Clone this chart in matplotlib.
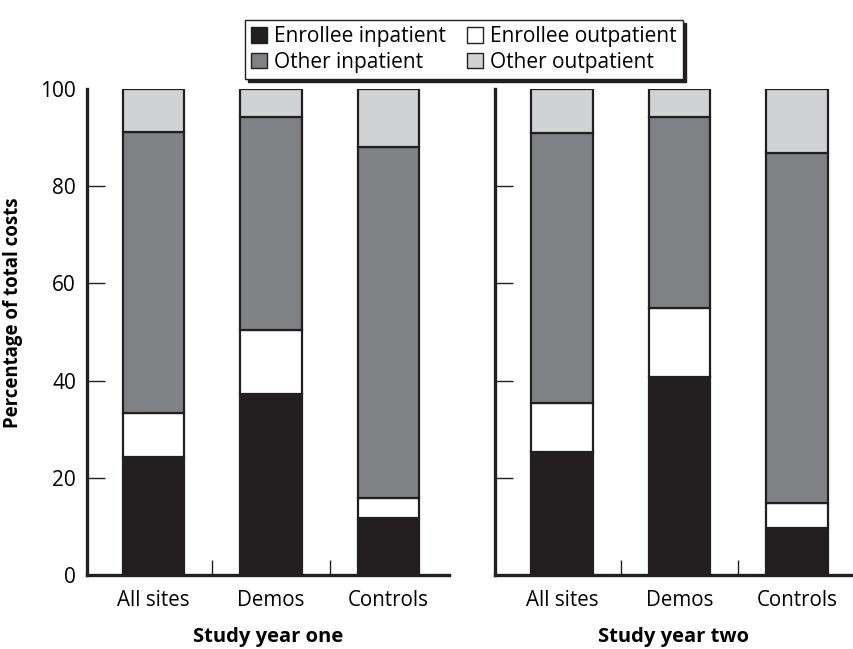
import matplotlib
matplotlib.use("Agg")
import matplotlib.pyplot as plt
from matplotlib.patches import Patch
import numpy as np

plt.rcParams['font.family'] = ['Open Sans', 'DejaVu Sans']

categories = ["All sites", "Demos", "Controls"]
series_names = ["Enrollee inpatient", "Enrollee outpatient", "Other inpatient", "Other outpatient"]

# Year one segment percentages
y1_enrollee_inpatient = [24.2, 37.2, 11.7]
y1_enrollee_outpatient = [9.1, 13.2, 4.2]
y1_other_inpatient = [57.9, 43.9, 72.2]
y1_other_outpatient = [8.8, 5.7, 11.9]

# Year two segment percentages
y2_enrollee_inpatient = [25.4, 40.7, 9.7]
y2_enrollee_outpatient = [9.9, 14.2, 5.1]
y2_other_inpatient = [55.7, 39.4, 72.0]
y2_other_outpatient = [9.0, 5.7, 13.2]

panel_titles = ["Study year one", "Study year two"]
y_ticks = [0, 20, 40, 60, 80, 100]

colors = ["#231f20", "#ffffff", "#808184", "#d1d2d4"]
edge = "#231f20"

fig = plt.figure(figsize=(8.54, 6.49), dpi=100)
H = 649.0
W = 854.0
ax1 = fig.add_axes([87 / W, (H - 575) / H, (449 - 87) / W, (575 - 89) / H])
ax2 = fig.add_axes([495 / W, (H - 575) / H, (852 - 495) / W, (575 - 89) / H])

panels = [
    (ax1, [y1_enrollee_inpatient, y1_enrollee_outpatient, y1_other_inpatient, y1_other_outpatient], (-0.566, 2.515)),
    (ax2, [y2_enrollee_inpatient, y2_enrollee_outpatient, y2_other_inpatient, y2_other_outpatient], (-0.570, 2.468)),
]

x = np.arange(len(categories))
for i, (ax, data, xl) in enumerate(panels):
    bottom = np.zeros(len(categories))
    for vals, c in zip(data, colors):
        ax.bar(x, vals, bottom=bottom, width=0.52, color=c, edgecolor=edge, linewidth=1.6, zorder=2)
        bottom += np.array(vals)
    ax.set_xlim(*xl)
    ax.set_ylim(0, 100)
    for s in ["top", "right"]:
        ax.spines[s].set_visible(False)
    for s in ["left", "bottom"]:
        ax.spines[s].set_linewidth(2.4)
        ax.spines[s].set_color(edge)
        ax.spines[s].set_zorder(3)
    ax.set_yticks(y_ticks)
    ax.tick_params(axis='y', direction='in', length=13, width=1.0, color=edge, pad=8, labelsize=15)
    if i == 1:
        ax.tick_params(axis='y', labelleft=False)
    ax.set_xticks(x)
    ax.set_xticklabels(categories, fontsize=14.8)
    ax.tick_params(axis='x', length=0, pad=11)
    ax.set_xticks([0.5, 1.5], minor=True)
    ax.tick_params(axis='x', which='minor', direction='in', length=11, width=1.0, color=edge)
    ax.set_xlabel(panel_titles[i], fontsize=14.5, fontweight='bold', labelpad=11)
    yt = ax.yaxis.get_major_ticks()
    yt[0].tick1line.set_visible(False)
    yt[-1].tick1line.set_visible(False)

ax1.set_ylabel("Percentage of total costs", fontsize=13.4, fontweight='bold')
ax1.yaxis.set_label_coords(-0.177, 0.54)

handles = [Patch(facecolor=c, edgecolor=edge, linewidth=1.0) for c in colors]
order = [0, 2, 1, 3]
leg = fig.legend([handles[k] for k in order], [series_names[k] for k in order],
                 ncol=2, loc='center', bbox_to_anchor=((241 + 687) / 2 / W, 1 - (22 + 77) / 2 / H),
                 fontsize=15, frameon=True, fancybox=False, shadow={'color': '#231f20', 'alpha': 1},
                 handlelength=0.75, handleheight=0.75, handletextpad=0.35, columnspacing=1.0,
                 labelspacing=0.22, borderpad=0.3)
leg.get_frame().set_edgecolor(edge)
leg.get_frame().set_linewidth(1.0)

fig.savefig("out.png", dpi=100)
